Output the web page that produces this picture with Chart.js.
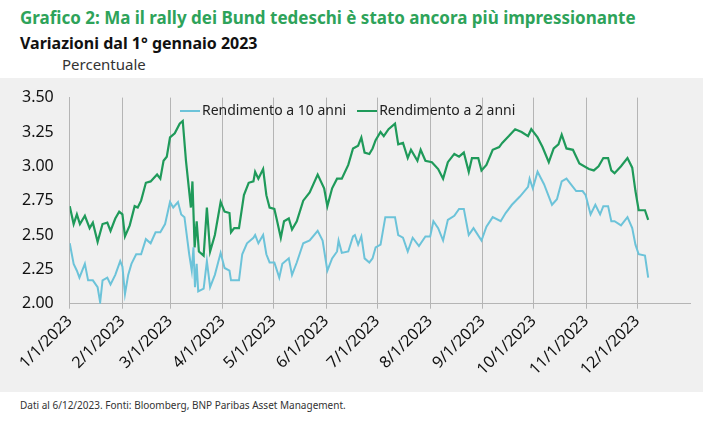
<!DOCTYPE html>
<html>
<head>
<meta charset="utf-8">
<script src="https://cdn.jsdelivr.net/npm/chart.js@4"></script>
<style>
body { margin:0; background:#fff; font-family:"Noto Sans", sans-serif; width:725px; height:427px; position:relative; overflow:hidden; }
.title { position:absolute; left:20px; top:6px; font-size:17px; font-weight:bold; color:#2ea35a; }
.subtitle { position:absolute; left:20px; top:32px; font-size:16px; font-weight:bold; color:#111; }
.unit { position:absolute; left:62px; top:54px; font-size:15px; color:#333; }
.panel { position:absolute; left:0; top:78px; width:703px; height:314px; background:#f0f0f0; }
.wrap { position:absolute; left:0; top:80px; width:700px; height:302px; }
.legend { position:absolute; top:100px; left:180px; font-size:14px; color:#222; }
.legend span.l { display:inline-block; width:20px; height:2px; vertical-align:middle; margin-right:2px; }
.foot { position:absolute; left:20px; top:398px; font-size:10px; color:#333; }
</style>
</head>
<body>
<div class="title">Grafico 2: Ma il rally dei Bund tedeschi è stato ancora più impressionante</div>
<div class="subtitle">Variazioni dal 1° gennaio 2023</div>
<div class="unit">Percentuale</div>
<div class="panel"></div>
<div class="wrap"><canvas id="chart"></canvas></div>
<div class="legend"><span class="l" style="background:#6cc3d9"></span>Rendimento a 10 anni &nbsp; <span class="l" style="background:#1f9a5a"></span>Rendimento a 2 anni</div>
<div class="foot">Dati al 6/12/2023. Fonti: Bloomberg, BNP Paribas Asset Management.</div>
<script>
// month starts (day of year) and their labels
const monthDays = [0, 31, 59, 90, 120, 151, 181, 212, 243, 273, 304, 334]
const monthLabels = ['1/1/2023', '2/1/2023', '3/1/2023', '4/1/2023', '5/1/2023', '6/1/2023', '7/1/2023', '8/1/2023', '9/1/2023', '10/1/2023', '11/1/2023', '12/1/2023']

// 2 year yield
const days2y = [0, 2.3, 4.2, 6, 8.9, 11.7, 13.6, 16.4, 19.3, 22.1, 24, 26.8, 29.1, 31, 32.5, 35.3, 38.2, 40, 42, 44.8, 47.6, 51.4, 53.3, 55.2, 57.1, 59, 61.8, 64.7, 66.5, 68.4, 71.3, 72.2, 73.5, 74.7, 76, 78.8, 80.7, 82.6, 85.4, 88.8, 91.1, 94, 94.9, 96.8, 99.6, 102.5, 105.3, 108.1, 109.1, 111, 113.8, 115.7, 117.6, 120.4, 121.7, 124.2, 126.1, 128.9, 130.8, 133.6, 137.4, 141.2, 145.9, 149.7, 151.6, 154.4, 157.3, 160.1, 163.9, 166.7,
  169.7, 171.6, 173.5, 176.3, 178.2, 180, 182.9, 184.8, 187.6, 191.4, 193.3, 196.1, 198.9, 200.8, 204.6, 206.5, 209.3, 213.1, 216.8, 219.7, 222.5, 226.3, 229.1, 231.9, 234.8, 236.7, 240.4, 242.3, 245.2, 248.9, 252.7, 254.5, 258.4, 262.1, 265.9, 269.7, 271.6, 275.3, 278.2, 281.9, 284.8, 287.6, 289.5, 292.3, 296.1, 299.9, 305.5, 308.4, 311.2, 314, 316.8, 318.7, 320.6, 324.4, 328.2, 331, 332.9, 334.8, 338.5, 340.4]
const yield2y = [2.71, 2.58, 2.65, 2.58, 2.64, 2.55, 2.59, 2.45, 2.58, 2.59, 2.53, 2.62, 2.67, 2.65, 2.49, 2.57, 2.71, 2.70, 2.75, 2.88, 2.89, 2.94, 2.91, 3.04, 3.07, 3.21, 3.24, 3.31, 3.33, 3.04, 2.70, 2.89, 2.41, 2.60, 2.38, 2.35, 2.70, 2.38, 2.50, 2.74, 2.67, 2.66, 2.52, 2.55, 2.55, 2.79, 2.88, 2.89, 2.96, 2.91, 2.98, 2.79, 2.70, 2.69, 2.62, 2.48, 2.60, 2.62, 2.54, 2.60, 2.75, 2.81, 2.94, 2.84, 2.71, 2.84, 2.91, 2.91, 3.01, 3.13,
  3.15, 3.21, 3.10, 3.09, 3.13, 3.19, 3.25, 3.22, 3.27, 3.31, 3.16, 3.17, 3.06, 3.12, 3.04, 3.12, 3.04, 3.03, 2.98, 2.91, 3.03, 3.09, 3.07, 3.10, 2.96, 3.06, 3.06, 2.97, 3.01, 3.12, 3.14, 3.17, 3.22, 3.27, 3.25, 3.22, 3.27, 3.21, 3.14, 3.03, 3.13, 3.16, 3.23, 3.13, 3.12, 3.02, 2.98, 2.97, 3.00, 3.06, 3.06, 2.97, 2.95, 3.00, 3.06, 2.99, 2.82, 2.68, 2.68, 2.61]

// 10 year yield
const days10y = [0, 2.3, 4.2, 5.7, 8.9, 10.8, 13.6, 16.4, 17.9, 19.3, 22.1, 24, 26.8, 29.7, 31, 32.5, 34.4, 36.3, 39.1, 42, 44.8, 47.6, 50.5, 53.3, 56.1, 59, 60.9, 63.7, 65.6, 67.5, 70.3, 71.8, 72.8, 73.7, 74.7, 75.6, 78.8, 80.7, 82.6, 85.4, 88.8, 91.1, 94, 94.9, 99.6, 101.5, 104.3, 108.1, 109.1, 111, 113.8, 115.7, 117.6, 120.4, 123.3, 125.1, 128.9, 130.8, 133.6, 137.4, 141.2, 145.9, 148.8, 151.6, 154.4, 157.3, 158.2, 160.1, 163.9, 166.7,
  167.8, 169.7, 171.6, 173.5, 176.3, 178.2, 180, 182.9, 185.7, 191.4, 193.3, 196.1, 198.9, 201.8, 205.5, 209.3, 212.1, 214, 216.8, 219.7, 222.5, 226.3, 229.1, 231.9, 234.8, 237.6, 242.3, 245.2, 248.9, 253.6, 256.5, 260.2, 264.9, 269.7, 270.6, 272.5, 275.3, 279.1, 283.8, 286.7, 289.5, 292.3, 296.1, 298, 301.8, 303.6, 306.5, 309.3, 312.1, 314, 316.8, 318.7, 320.6, 324.4, 328.2, 331, 332.9, 334.8, 338.5, 340.4]
const yield10y = [2.44, 2.29, 2.24, 2.19, 2.29, 2.17, 2.17, 2.12, 2.01, 2.17, 2.19, 2.14, 2.21, 2.31, 2.27, 2.07, 2.21, 2.29, 2.36, 2.36, 2.47, 2.44, 2.52, 2.52, 2.58, 2.74, 2.70, 2.74, 2.65, 2.63, 2.36, 2.24, 2.41, 2.12, 2.29, 2.09, 2.11, 2.31, 2.12, 2.21, 2.37, 2.26, 2.24, 2.17, 2.17, 2.36, 2.44, 2.48, 2.50, 2.44, 2.50, 2.36, 2.30, 2.30, 2.19, 2.29, 2.33, 2.21, 2.30, 2.44, 2.46, 2.53, 2.46, 2.24, 2.33, 2.38, 2.46, 2.37, 2.38, 2.49,
  2.50, 2.43, 2.49, 2.33, 2.30, 2.33, 2.41, 2.43, 2.63, 2.63, 2.50, 2.48, 2.38, 2.48, 2.42, 2.49, 2.49, 2.60, 2.55, 2.46, 2.61, 2.64, 2.69, 2.69, 2.50, 2.55, 2.46, 2.56, 2.63, 2.60, 2.66, 2.72, 2.78, 2.85, 2.91, 2.84, 2.96, 2.87, 2.72, 2.76, 2.89, 2.91, 2.85, 2.82, 2.82, 2.79, 2.65, 2.72, 2.65, 2.71, 2.71, 2.60, 2.60, 2.57, 2.63, 2.55, 2.43, 2.36, 2.35, 2.19]

const yTicks = [2.00, 2.25, 2.50, 2.75, 3.00, 3.25, 3.50]

function pts(xs, ys) {
    return xs.map(function (x, i) { return { x: x, y: ys[i] } })
}

new Chart(document.getElementById('chart'), {
    type: 'line',
    data: {
        datasets: [
            { label: 'Rendimento a 10 anni', data: pts(days10y, yield10y), borderColor: '#6cc3d9', borderWidth: 2, pointRadius: 0, tension: 0 },
            { label: 'Rendimento a 2 anni', data: pts(days2y, yield2y), borderColor: '#1f9a5a', borderWidth: 2.2, pointRadius: 0, tension: 0 }
        ]
    },
    options: {
        responsive: true,
        maintainAspectRatio: false,
        animation: false,
        layout: { padding: { top: 6, right: 10, left: 14 } },
        plugins: { legend: { display: false }, tooltip: { enabled: false } },
        scales: {
            x: {
                type: 'linear', min: 0, max: 365,
                afterBuildTicks: function (axis) { axis.ticks = monthDays.map(function (v) { return { value: v } }) },
                ticks: {
                    autoSkip: false, maxRotation: 45, minRotation: 45, color: '#111',
                    font: { family: 'Noto Sans', size: 16 },
                    callback: function (v) { return monthLabels[monthDays.indexOf(v)] }
                },
                grid: { color: '#b5b5b5', drawTicks: true, tickLength: 5 },
                border: { color: '#b5b5b5' }
            },
            y: {
                min: 2, max: 3.5,
                afterBuildTicks: function (axis) { axis.ticks = yTicks.map(function (v) { return { value: v } }) },
                ticks: {
                    color: '#111', font: { family: 'Noto Sans', size: 16 }, padding: 8,
                    callback: function (v) { return v.toFixed(2) }
                },
                grid: { display: false },
                border: { color: '#b5b5b5' }
            }
        }
    }
})
</script>
</body>
</html>
